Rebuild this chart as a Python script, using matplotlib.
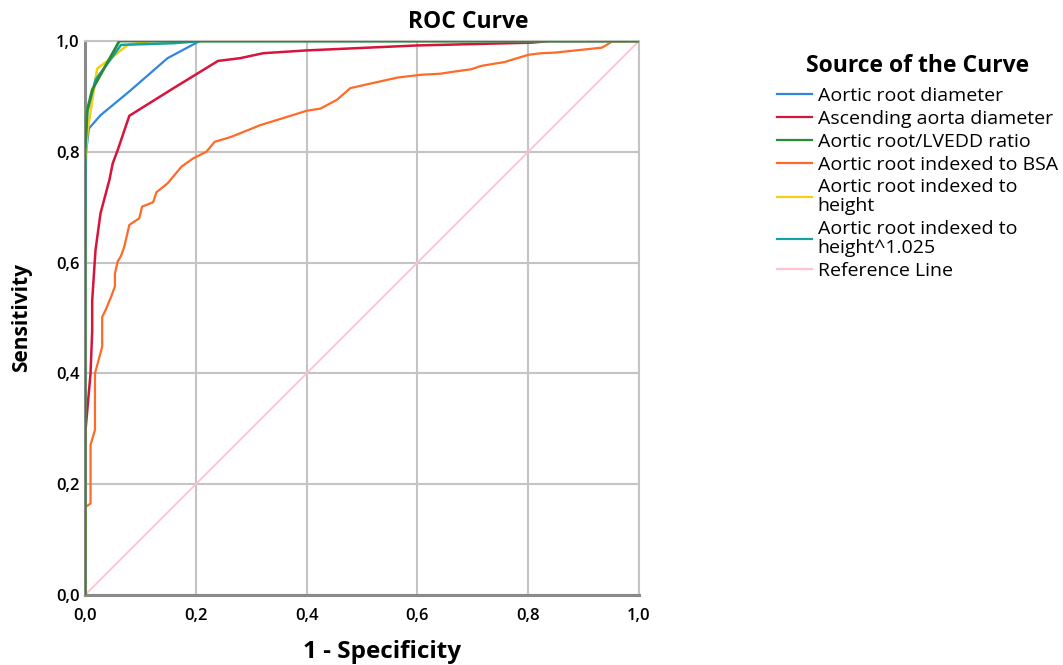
import matplotlib
matplotlib.use("Agg")
import matplotlib.pyplot as plt
from matplotlib.lines import Line2D

# ---- data (1 - specificity, sensitivity) ----
root_fpr = [0.0, 0.0, 0.002, 0.007, 0.028, 0.08, 0.149, 0.207, 1.0]
root_tpr = [0.0, 0.60, 0.80, 0.842, 0.866, 0.909, 0.969, 1.0, 1.0]

asc_fpr = [0.0, 0.0, 0.001, 0.010, 0.013, 0.013, 0.019, 0.028, 0.044, 0.050, 0.059,
           0.080, 0.160, 0.240, 0.280, 0.322, 0.400, 0.600, 0.806, 0.840, 1.0]
asc_tpr = [0.0, 0.28, 0.298, 0.400, 0.478, 0.532, 0.623, 0.689, 0.749, 0.779, 0.803,
           0.865, 0.915, 0.964, 0.969, 0.978, 0.983, 0.992, 0.997, 1.0, 1.0]

ratio_fpr = [0.0, 0.0, 0.004, 0.013, 0.062, 1.0]
ratio_tpr = [0.0, 0.80, 0.875, 0.912, 1.0, 1.0]

bsa_fpr = [0.0, 0.001, 0.010, 0.010, 0.018, 0.018, 0.031, 0.031, 0.037, 0.047, 0.054,
           0.054, 0.059, 0.065, 0.071, 0.080, 0.098, 0.103, 0.123, 0.129, 0.149,
           0.174, 0.195, 0.219, 0.234, 0.264, 0.316, 0.400, 0.425, 0.455, 0.479,
           0.564, 0.606, 0.642, 0.661, 0.697, 0.715, 0.757, 0.800, 0.824, 0.848,
           0.933, 0.945, 0.951, 1.0]
bsa_tpr = [0.0, 0.159, 0.165, 0.271, 0.298, 0.400, 0.448, 0.502, 0.514, 0.538, 0.557,
           0.580, 0.602, 0.612, 0.629, 0.668, 0.680, 0.701, 0.709, 0.727, 0.743,
           0.773, 0.788, 0.800, 0.818, 0.827, 0.848, 0.874, 0.878, 0.894, 0.915,
           0.934, 0.939, 0.941, 0.944, 0.949, 0.955, 0.962, 0.975, 0.978, 0.979,
           0.988, 0.995, 0.999, 1.0]

height_fpr = [0.0, 0.0, 0.005, 0.022, 0.047, 0.077, 0.120, 1.0]
height_tpr = [0.0, 0.78, 0.84, 0.950, 0.969, 0.993, 1.0, 1.0]

h1025_fpr = [0.0, 0.0, 0.004, 0.019, 0.050, 0.065, 0.160, 0.210, 1.0]
h1025_tpr = [0.0, 0.80, 0.872, 0.930, 0.972, 0.993, 0.996, 1.0, 1.0]

ref_x = [0.0, 1.0]
ref_y = [0.0, 1.0]

labels = ["Aortic root diameter", "Ascending aorta diameter", "Aortic root/LVEDD ratio",
          "Aortic root indexed to BSA", "Aortic root indexed to\nheight",
          "Aortic root indexed to\nheight^1.025", "Reference Line"]
colors = ["#2f86e0", "#d6143c", "#2b8a3a", "#ff6a26", "#f5cf10", "#13a3a6", "#ffc2d0"]
ticks = [0.0, 0.2, 0.4, 0.6, 0.8, 1.0]
tick_labels = ["0,0", "0,2", "0,4", "0,6", "0,8", "1,0"]

plt.rcParams['font.family'] = ['Open Sans', 'DejaVu Sans']

fig = plt.figure(figsize=(10.63, 6.65), dpi=100)
ax = fig.add_axes([85/1063, 70/665, 554/1063, 554/665])

ax.plot(ref_x, ref_y, color=colors[6], lw=1.3, zorder=2)
ax.plot(bsa_fpr, bsa_tpr, color=colors[3], lw=1.6, zorder=3)
ax.plot(asc_fpr, asc_tpr, color=colors[1], lw=1.8, zorder=4)
ax.plot(root_fpr, root_tpr, color=colors[0], lw=1.6, zorder=5)
ax.plot(height_fpr, height_tpr, color=colors[4], lw=1.8, zorder=6)
ax.plot(h1025_fpr, h1025_tpr, color=colors[5], lw=1.8, zorder=7)
ax.plot(ratio_fpr, ratio_tpr, color=colors[2], lw=2.0, zorder=8)

ax.set_xlim(0, 1)
ax.set_ylim(0, 1)
ax.set_xticks(ticks)
ax.set_xticklabels(tick_labels)
ax.set_yticks(ticks)
ax.set_yticklabels(tick_labels)
ax.tick_params(length=0, labelsize=12)
ax.tick_params(axis='x', pad=9)
ax.tick_params(axis='y', pad=4)
for lab in ax.get_xticklabels() + ax.get_yticklabels():
    lab.set_fontweight('semibold')
ax.grid(True, color="#c4c4c4", lw=1.5, zorder=0)
ax.set_axisbelow(True)
for s in ["top", "right"]:
    ax.spines[s].set_color("#c4c4c4")
    ax.spines[s].set_linewidth(1.5)
for s in ["left", "bottom"]:
    ax.spines[s].set_color("#8a8a8a")
    ax.spines[s].set_linewidth(2.2)

fig.text(382/1063, 1 - 652/665, "1 - Specificity", fontsize=17.5, fontweight='bold',
         ha='center', va='center')
fig.text(22/1063, 1 - 318/665, "Sensitivity", fontsize=15, fontweight='bold',
         ha='center', va='center', rotation=90)
fig.text(468/1063, 1 - 22/665, "ROC Curve", fontsize=16.5, fontweight='bold',
         ha='center', va='center')

handles = [Line2D([0], [0], color=c, lw=1.6) for c in colors]
leg = fig.legend(handles, labels, loc='upper left', bbox_to_anchor=(777/1063, 1 - 54/665),
                 frameon=False, fontsize=14, handlelength=1.8, handletextpad=0.3,
                 labelspacing=0.25, borderpad=0, borderaxespad=0,
                 title="Source of the Curve",
                 title_fontproperties={'weight': 'bold', 'size': 16.5})
for t in leg.get_texts():
    t.set_linespacing(1.05)
leg._legend_box.align = "center"
leg._legend_box.sep = 6.5

fig.savefig("out.png", dpi=100)
